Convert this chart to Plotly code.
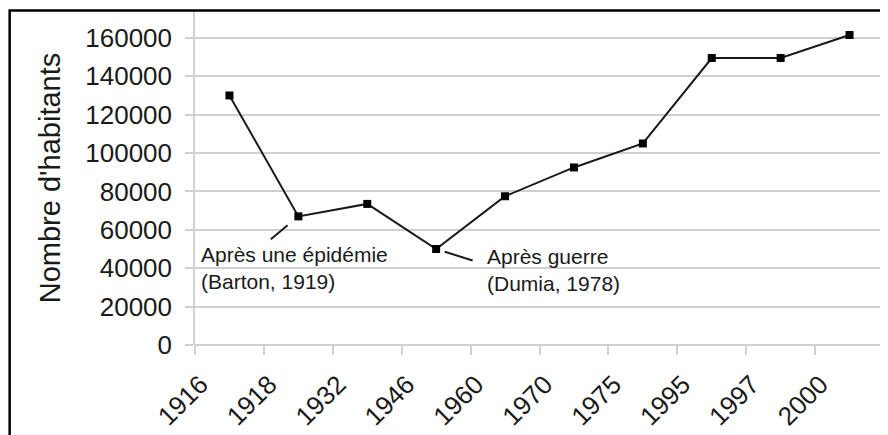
import plotly.graph_objects as go

years = ["1916", "1918", "1932", "1946", "1960", "1970", "1975", "1995", "1997", "2000"]
population = [130000, 67000, 73500, 50000, 77500, 92500, 105000, 149500, 149500, 161500]
y_ticks = [0, 20000, 40000, 60000, 80000, 100000, 120000, 140000, 160000]
y_title = "Nombre d'habitants"
note1_year, note1_text = "1918", "Après une épidémie<br>(Barton, 1919)"
note2_year, note2_text = "1946", "Après guerre<br>(Dumia, 1978)"

FONT = "Liberation Sans, Arial, sans-serif"
GRID = "#d0d0d0"
INK = "#1a1a1a"

fig = go.Figure()
fig.add_trace(go.Scatter(
    x=years, y=population, mode="lines+markers",
    line=dict(color=INK, width=2),
    marker=dict(symbol="square", size=8, color="#000000"),
    showlegend=False, hoverinfo="x+y",
))

def idx(year):
    return years.index(year)

def val(year):
    return population[years.index(year)]

# leader lines
fig.add_annotation(x=idx(note1_year), y=val(note1_year), text="", showarrow=True,
                   arrowhead=0, arrowwidth=2, arrowcolor=INK,
                   ax=-29, ay=24, standoff=14)
fig.add_annotation(x=idx(note2_year), y=val(note2_year), text="", showarrow=True,
                   arrowhead=0, arrowwidth=2, arrowcolor=INK,
                   ax=38, ay=12, standoff=9)
# labels
fig.add_annotation(x=idx(note1_year), y=val(note1_year), text=note1_text, showarrow=False,
                   xanchor="left", yanchor="middle", align="left",
                   xshift=-99, yshift=-52,
                   font=dict(family=FONT, size=21, color=INK))
fig.add_annotation(x=idx(note2_year), y=val(note2_year), text=note2_text, showarrow=False,
                   xanchor="left", yanchor="middle", align="left",
                   xshift=49, yshift=-21,
                   font=dict(family=FONT, size=21, color=INK))

# outer black frame (cropped at right/bottom like the reference)
fig.add_shape(type="rect", xref="paper", yref="paper",
              x0=-0.269, x1=1.2, y0=-0.6, y1=1.0015,
              line=dict(color="#000000", width=2.5), layer="above")

fig.update_layout(
    width=880, height=427,
    margin=dict(l=187, r=4, t=3, b=90, autoexpand=False),
    paper_bgcolor="white", plot_bgcolor="white",
    font=dict(family=FONT, color=INK),
    xaxis=dict(
        type="category", tickson="boundaries", automargin=False,
        showgrid=False, showline=False, zeroline=False,
        ticks="outside", ticklen=9, tickwidth=1.5, tickcolor=GRID,
        tickangle=-45, tickfont=dict(size=26, color=INK),
        ticklabelshift=-29, ticklabelstandoff=18,
        range=[-0.5, len(years) - 0.5],
    ),
    yaxis=dict(
        range=[0, 174000], tickvals=y_ticks, tickformat="d", automargin=False,
        showgrid=True, gridcolor=GRID, gridwidth=1.5,
        showline=True, linecolor=GRID, linewidth=1.5, mirror=True,
        zeroline=True, zerolinecolor=GRID, zerolinewidth=1.5,
        ticks="outside", ticklen=8, tickwidth=1.5, tickcolor=GRID,
        tickfont=dict(size=26, color=INK), ticklabelstandoff=8,
        title=dict(text=y_title, font=dict(size=29, color=INK), standoff=16),
    ),
)

fig.write_html("out.html")
